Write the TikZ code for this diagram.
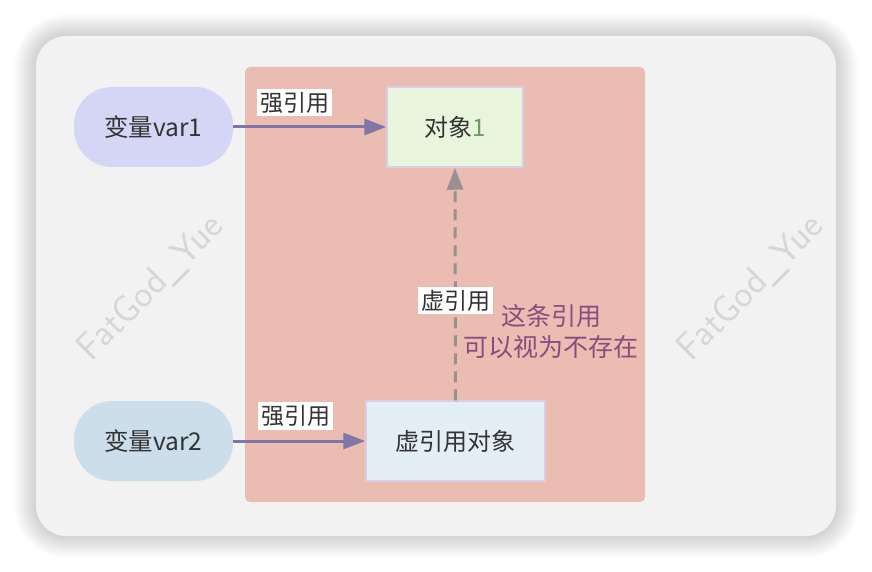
\documentclass[tikz,border=0pt]{standalone}
\usepackage{fontspec}
\setmainfont{Noto Sans CJK SC}
\usetikzlibrary{arrows.meta}
\definecolor{cardbg}{HTML}{F2F2F2}
\definecolor{pinkbg}{HTML}{EBBCB2}
\definecolor{varA}{HTML}{D5D6F6}
\definecolor{varB}{HTML}{CCDEEA}
\definecolor{objA}{HTML}{E8F5DC}
\definecolor{objB}{HTML}{E3EEF5}
\definecolor{objline}{HTML}{D8CCE6}
\definecolor{arrowpurple}{HTML}{7F77A8}
\definecolor{dashgray}{HTML}{999090}
\definecolor{notepurple}{HTML}{8A4C7E}
\definecolor{wmgray}{HTML}{D6D6D6}
\definecolor{onegreen}{HTML}{6E9A5A}
\definecolor{txt}{HTML}{333333}
\tikzset{
  varbox/.style={rounded corners=38pt, minimum width=159pt, minimum height=80pt, inner sep=0pt, font=\fontsize{24.5pt}{27pt}\selectfont, text=txt},
  objbox/.style={draw=objline, line width=1.5pt, minimum height=80pt, inner sep=0pt, font=\fontsize{24pt}{27pt}\selectfont, text=txt},
  lbl/.style={fill=white, inner xsep=3pt, inner ysep=3pt, font=\fontsize{23pt}{26pt}\selectfont, text=txt},
  strong/.style={draw=arrowpurple, line width=3pt, -{Triangle[length=22pt,width=16pt]}},
  weak/.style={draw=dashgray, line width=3pt, dash pattern=on 11pt off 7pt, -{Triangle[length=22pt,width=16pt]}},
  wm/.style={text=wmgray, rotate=45, font=\sffamily\fontsize{38pt}{40pt}\selectfont}
}
\begin{document}
\begin{tikzpicture}[x=1pt,y=-1pt]
\useasboundingbox (0,0) rectangle (872,572);
\fill[white] (0,0) rectangle (872,572);
\foreach \i in {1,...,22}{
  \fill[black, opacity=0.007, rounded corners={30pt+\i pt}] (36-\i,36-\i) rectangle (836+\i,536+\i);
}
\path[fill=cardbg, rounded corners=30pt] (36,36) rectangle (836,536);
\node[wm] (wm1) at (151,288) {FatGod\_Yue};
\node[wm] (wm2) at (751,288) {FatGod\_Yue};
\fill[pinkbg, rounded corners=5pt] (245,67) rectangle (645,502);
\node[varbox, fill=varA] (v1) at (153.5,127) {变量var1};
\node[varbox, fill=varB] (v2) at (153.5,441) {变量var2};
\node[objbox, fill=objA, minimum width=136pt] (o1) at (455,127) {对象\textcolor{onegreen}{1}};
\node[objbox, fill=objB, minimum width=179pt] (o2) at (455.5,441) {虚引用对象};
\draw[strong] (v1.east) -- (o1.west);
\draw[strong] (v2.east) -- (o2.west);
\draw[weak] (o2.north) -- (o1.south);
\node[lbl] (l1) at (294.5,102.5) {强引用};
\node[lbl] (l2) at (295.5,416) {强引用};
\node[lbl] (l3) at (455.5,300.5) {虚引用};
\node[align=center, text=notepurple, font=\fontsize{25pt}{31pt}\selectfont, inner sep=0pt] (note) at (551,331) {这条引用\\可以视为不存在};
\end{tikzpicture}
\end{document}
